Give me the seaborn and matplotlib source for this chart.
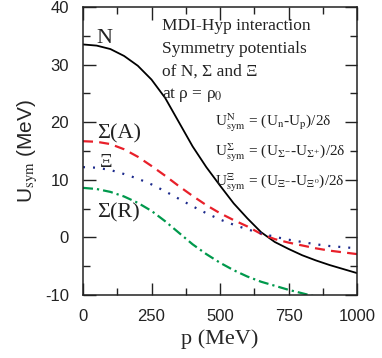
import numpy as np
import pandas as pd
import matplotlib
matplotlib.use('Agg')
import matplotlib.pyplot as plt
import seaborn as sns
from matplotlib.ticker import MultipleLocator

# momentum grid (MeV)
p = [0, 50, 100, 150, 200, 250, 300, 350, 400, 450, 500,
     550, 600, 650, 700, 750, 800, 850, 900, 950, 1000]

# symmetry potentials (MeV)
u_N = [33.5, 33.3, 32.7, 31.5, 29.8, 27.4, 24.2, 20.0, 15.8, 12.2, 9.0,
       5.9, 3.3, 0.9, -0.8, -2.0, -3.1, -4.0, -4.8, -5.5, -6.2]
u_SigA = [16.7, 16.6, 16.2, 15.3, 14.0, 12.4, 10.7, 8.9, 7.2, 5.6, 4.2,
          3.0, 1.9, 0.6, -0.3, -0.9, -1.4, -1.9, -2.3, -2.6, -2.9]
u_Xi = [12.2, 12.1, 11.7, 11.0, 10.2, 9.2, 8.0, 6.7, 5.4, 4.2, 3.1,
        2.2, 1.4, 0.7, 0.1, -0.4, -0.8, -1.2, -1.5, -1.7, -1.9]
u_SigR = [8.6, 8.4, 7.9, 7.1, 6.0, 4.6, 2.8, 0.8, -1.2, -2.9, -4.4,
          -5.7, -6.8, -7.7, -8.4, -9.1, -9.7, -10.3, -10.8, -11.2, -11.6]

df = pd.DataFrame({'p': p, 'N': u_N, 'SigA': u_SigA, 'Xi': u_Xi, 'SigR': u_SigR})

sns.set_style('ticks', {'xtick.direction': 'in', 'ytick.direction': 'in'})
plt.rcParams['font.family'] = ['Liberation Sans', 'DejaVu Sans']
plt.rcParams['mathtext.fontset'] = 'stix'
plt.rcParams['axes.unicode_minus'] = False
plt.rcParams['xtick.top'] = True
plt.rcParams['ytick.right'] = True

fig = plt.figure(figsize=(3.82, 3.58), dpi=100)
ax = fig.add_axes([0.2173, 0.176, 0.7173, 0.8044])

sns.lineplot(data=df, x='p', y='N', color='black', lw=1.3, ax=ax)
sns.lineplot(data=df, x='p', y='SigA', color='#e8202a', lw=1.6,
             linestyle=(0, (4.5, 2.8)), ax=ax)
sns.lineplot(data=df, x='p', y='Xi', color='#1c2a8c', lw=1.6,
             linestyle=(0, (0.9, 3.6)), ax=ax)
sns.lineplot(data=df, x='p', y='SigR', color='#00994c', lw=1.6,
             linestyle=(0, (4.5, 1.8, 1.0, 1.8)), ax=ax)

ax.set_xlim(0, 1000)
ax.set_ylim(-10, 40)
ax.xaxis.set_major_locator(MultipleLocator(250))
ax.xaxis.set_minor_locator(MultipleLocator(125))
ax.yaxis.set_major_locator(MultipleLocator(10))
ax.yaxis.set_minor_locator(MultipleLocator(5))
ax.tick_params(which='both', direction='in', top=True, right=True,
               bottom=True, left=True, color='#222222', width=1.0,
               labelsize=12, labelcolor='#222222')
ax.tick_params(which='major', length=9)
ax.tick_params(which='minor', length=5)
ax.tick_params(axis='x', which='major', pad=10)
ax.tick_params(axis='y', which='major', pad=10)
for s in ax.spines.values():
    s.set_linewidth(1.1)
    s.set_color('#222222')

ax.set_xlabel('p (MeV)', family='Liberation Serif', fontsize=16, labelpad=4)
ax.set_ylabel(r'U$_{\rm sym}$ (MeV)', fontsize=15, labelpad=4)

serif = dict(family=['Liberation Serif', 'DejaVu Serif'], color='#222222')
ax.text(0.29, 0.935, 'MDI-Hyp interaction', transform=ax.transAxes, fontsize=12.5, va='center', **serif)
ax.text(0.29, 0.853, 'Symmetry potentials', transform=ax.transAxes, fontsize=12.5, va='center', **serif)
ax.text(0.29, 0.774, 'of N, Σ and Ξ', transform=ax.transAxes, fontsize=12.5, va='center', **serif)
ax.text(0.29, 0.694, r'at ρ = ρ$_0$', transform=ax.transAxes, fontsize=12.5, va='center', **serif)

ax.text(0.48, 0.597, r'U$^{\rm N}_{\rm sym}$ = (U$_{\rm n}$-U$_{\rm p}$)/2δ',
        transform=ax.transAxes, fontsize=11, va='center', **serif)
ax.text(0.48, 0.494, r'U$^{\Sigma}_{\rm sym}$ = (U$_{\Sigma^{-}}$-U$_{\Sigma^{+}}$)/2δ',
        transform=ax.transAxes, fontsize=11, va='center', **serif)
ax.text(0.48, 0.39, r'U$^{\Xi}_{\rm sym}$ = (U$_{\Xi^{-}}$-U$_{\Xi^{0}}$)/2δ',
        transform=ax.transAxes, fontsize=11, va='center', **serif)

ax.text(0.05, 0.892, 'N', transform=ax.transAxes, fontsize=16, va='center', **serif)
ax.text(0.05, 0.56, 'Σ(A)', transform=ax.transAxes, fontsize=16, va='center', **serif)
ax.text(0.062, 0.46, 'Ξ', transform=ax.transAxes, fontsize=14, va='center', **serif)
ax.text(0.05, 0.285, 'Σ(R)', transform=ax.transAxes, fontsize=16, va='center', **serif)

fig.savefig('out.png', dpi=100)
